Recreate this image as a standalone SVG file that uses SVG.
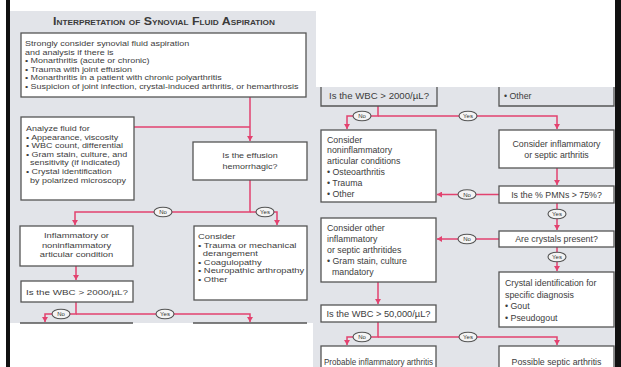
<svg xmlns="http://www.w3.org/2000/svg" width="621" height="367" viewBox="0 0 621 367">
<style>
.bg{fill:#e2e4e9}
.box{fill:#fff;stroke:#555;stroke-width:1.3}
.edge{fill:none;stroke:#555;stroke-width:1.3}
.t{font-family:"Liberation Sans",Arial,sans-serif;font-size:8.8px;fill:#3c3c3c}
.s{font-family:"Liberation Sans",Arial,sans-serif;font-size:7.8px;fill:#3c3c3c}
.c{text-anchor:middle}
.ttl{font-family:"Liberation Sans",Arial,sans-serif;font-size:10.5px;font-weight:bold;font-variant:small-caps;fill:#3a3a3a;text-anchor:middle}
.ln{fill:none;stroke:#e2426f;stroke-width:1.5}
.lab{fill:#f4f4f4;stroke:#555;stroke-width:1.1}
.lt{font-family:"Liberation Sans",Arial,sans-serif;font-size:6px;fill:#333;text-anchor:middle}
</style>
<defs>
<marker id="ah" markerUnits="userSpaceOnUse" markerWidth="6" markerHeight="6" refX="5" refY="3" orient="auto">
<path d="M0,0 L5,3 L0,6 Z" fill="#e2426f"/>
</marker>
</defs>
<rect width="621" height="367" fill="#fff"/>
<g id="page">
<rect class="bg" x="10" y="11" width="306" height="312"/>
<rect class="bg" x="313" y="87" width="302" height="280"/>
<rect x="6" y="0" width="4" height="367" fill="#111"/>
<rect x="615" y="0" width="6" height="367" fill="#111"/>
<text class="ttl" x="164" y="25" textLength="222" lengthAdjust="spacingAndGlyphs">Interpretation of Synovial Fluid Aspiration</text>
</g>

<g id="connectors">
<path class="ln" d="M250,97 V141" marker-end="url(#ah)"/>
<path class="ln" d="M134,127 H250"/>
<path class="ln" d="M250,180 V212 H75 V225" marker-end="url(#ah)"/>
<path class="ln" d="M250,212 H277 V225" marker-end="url(#ah)"/>
<path class="ln" d="M76,266 V280" marker-end="url(#ah)"/>
<path class="ln" d="M76,302 V314 H45 V322" marker-end="url(#ah)"/>
<path class="ln" d="M76,314 H250 V322" marker-end="url(#ah)"/>
<path class="ln" d="M378,106 V116 H347 V129" marker-end="url(#ah)"/>
<path class="ln" d="M378,116 H557 V129" marker-end="url(#ah)"/>
<path class="ln" d="M557,168 V185" marker-end="url(#ah)"/>
<path class="ln" d="M499,194.5 H437" marker-end="url(#ah)"/>
<path class="ln" d="M557,203 V230" marker-end="url(#ah)"/>
<path class="ln" d="M499,239 H437" marker-end="url(#ah)"/>
<path class="ln" d="M557,247 V271" marker-end="url(#ah)"/>
<path class="ln" d="M378,282 V304" marker-end="url(#ah)"/>
<path class="ln" d="M378,322 V337 H347 V345" marker-end="url(#ah)"/>
<path class="ln" d="M378,337 H557 V345" marker-end="url(#ah)"/>
<g id="labels">
<ellipse class="lab" cx="163" cy="212" rx="9" ry="4.8"/><text class="lt" x="163" y="214.2">No</text>
<ellipse class="lab" cx="265" cy="212" rx="9" ry="4.8"/><text class="lt" x="265" y="214.2">Yes</text>
<ellipse class="lab" cx="61" cy="314" rx="9" ry="4.8"/><text class="lt" x="61" y="316.2">No</text>
<ellipse class="lab" cx="165" cy="314" rx="9" ry="4.8"/><text class="lt" x="165" y="316.2">Yes</text>
<ellipse class="lab" cx="362" cy="116" rx="9" ry="4.8"/><text class="lt" x="362" y="118.2">No</text>
<ellipse class="lab" cx="468" cy="116" rx="9" ry="4.8"/><text class="lt" x="468" y="118.2">Yes</text>
<ellipse class="lab" cx="467" cy="194.5" rx="9" ry="4.8"/><text class="lt" x="467" y="196.7">No</text>
<ellipse class="lab" cx="557" cy="214" rx="9" ry="4.8"/><text class="lt" x="557" y="216.2">Yes</text>
<ellipse class="lab" cx="467" cy="239" rx="9" ry="4.8"/><text class="lt" x="467" y="241.2">No</text>
<ellipse class="lab" cx="557" cy="257" rx="9" ry="4.8"/><text class="lt" x="557" y="259.2">Yes</text>
<ellipse class="lab" cx="362" cy="337" rx="9" ry="4.8"/><text class="lt" x="362" y="339.2">No</text>
<ellipse class="lab" cx="468" cy="337" rx="9" ry="4.8"/><text class="lt" x="468" y="339.2">Yes</text>
</g>
</g>

<g id="n-consider-aspiration">
<rect class="box" x="21" y="33" width="285" height="64"/>
<g transform="translate(25 0) scale(1.15 1)">
<text class="s" x="0" y="46">Strongly consider synovial fluid aspiration</text>
<text class="s" x="0" y="54.6">and analysis if there is</text>
<text class="s" x="0" y="63.2">• Monarthritis (acute or chronic)</text>
<text class="s" x="0" y="71.8">• Trauma with joint effusion</text>
<text class="s" x="0" y="80.4">• Monarthritis in a patient with chronic polyarthritis</text>
<text class="s" x="0" y="89">• Suspicion of joint infection, crystal-induced arthritis, or hemarthrosis</text>
</g>
</g>

<g id="n-analyze">
<rect class="box" x="21" y="117" width="113" height="83"/>
<g transform="translate(26 0) scale(1.15 1)">
<text class="s" x="0" y="131">Analyze fluid for</text>
<text class="s" x="0" y="139.6">• Appearance, viscosity</text>
<text class="s" x="0" y="148.2">• WBC count, differential</text>
<text class="s" x="0" y="156.8">• Gram stain, culture, and</text>
<text class="s" x="3.5" y="165.4">sensitivity (if indicated)</text>
<text class="s" x="0" y="174">• Crystal identification</text>
<text class="s" x="3.5" y="182.6">by polarized microscopy</text>
</g>
</g>

<g id="n-hemorrhagic">
<rect class="box" x="193" y="142" width="114" height="38"/>
<g transform="translate(250 0) scale(1.15 1)">
<text class="s c" x="0" y="158">Is the effusion</text>
<text class="s c" x="0" y="169">hemorrhagic?</text>
</g>
</g>

<g id="n-inflammatory-condition">
<rect class="box" x="20" y="226" width="113" height="40"/>
<g transform="translate(76.5 0) scale(1.2 1)">
<text class="s c" x="0" y="238.5">Inflammatory or</text>
<text class="s c" x="0" y="248">noninflammatory</text>
<text class="s c" x="0" y="257.5">articular condition</text>
</g>
</g>

<g id="n-consider-trauma">
<rect class="box" x="194" y="226" width="113" height="74"/>
<g transform="translate(198 0) scale(1.2 1)">
<text class="s" x="0" y="239">Consider</text>
<text class="s" x="0" y="248">• Trauma or mechanical</text>
<text class="s" x="4" y="256.5">derangement</text>
<text class="s" x="0" y="265">• Coagulopathy</text>
<text class="s" x="0" y="273.5">• Neuropathic arthropathy</text>
<text class="s" x="0" y="282">• Other</text>
</g>
</g>

<g id="n-wbc-2000-left">
<rect class="box" x="21" y="281" width="112" height="21"/>
<text class="s c" x="77" y="294.5" textLength="102" lengthAdjust="spacingAndGlyphs">Is the WBC &gt; 2000/µL?</text>
</g>

<g id="n-cut-boxes">
<path class="edge" d="M20,323 H133 M193,323 H307"/>
<path class="edge" d="M321,87 V106 H437 V87"/>
<text class="t c" x="379" y="98.5" textLength="100" lengthAdjust="spacingAndGlyphs">Is the WBC &gt; 2000/µL?</text>
<path class="edge" d="M499,87 V106 H614 V87"/>
<text class="t" x="504" y="98.5">• Other</text>
</g>

<g id="n-noninflammatory">
<rect class="box" x="321" y="130" width="115" height="72"/>
<text class="t" x="327" y="142.5">Consider</text>
<text class="t" x="327" y="153.3">noninflammatory</text>
<text class="t" x="327" y="164.1">articular conditions</text>
<text class="t" x="327" y="174.9">• Osteoarthritis</text>
<text class="t" x="327" y="185.7">• Trauma</text>
<text class="t" x="327" y="196.5">• Other</text>
</g>

<g id="n-inflammatory-septic">
<rect class="box" x="499" y="130" width="115" height="38"/>
<text class="t c" x="556.5" y="147">Consider inflammatory</text>
<text class="t c" x="556.5" y="158">or septic arthritis</text>
</g>

<g id="n-pmns">
<rect class="box" x="499" y="186" width="115" height="17"/>
<text class="t c" x="556.5" y="197.5">Is the % PMNs &gt; 75%?</text>
</g>

<g id="n-crystals">
<rect class="box" x="499" y="231" width="115" height="16"/>
<text class="t c" x="556.5" y="242">Are crystals present?</text>
</g>

<g id="n-other-inflammatory">
<rect class="box" x="321" y="218" width="115" height="64"/>
<text class="t" x="327" y="231">Consider other</text>
<text class="t" x="327" y="242">inflammatory</text>
<text class="t" x="327" y="253">or septic arthritides</text>
<text class="t" x="327" y="264">• Gram stain, culture</text>
<text class="t" x="332" y="275">mandatory</text>
</g>

<g id="n-crystal-id">
<rect class="box" x="499" y="272" width="115" height="55"/>
<text class="t" x="505" y="286">Crystal identification for</text>
<text class="t" x="505" y="297.5">specific diagnosis</text>
<text class="t" x="505" y="309">• Gout</text>
<text class="t" x="505" y="320.5">• Pseudogout</text>
</g>

<g id="n-wbc-50000">
<rect class="box" x="321" y="305" width="115" height="17"/>
<text class="t c" x="378.5" y="316.5" textLength="104" lengthAdjust="spacingAndGlyphs">Is the WBC &gt; 50,000/µL?</text>
</g>

<g id="n-probable-inflammatory">
<rect class="box" x="321" y="346" width="115" height="30"/>
<text class="t c" x="378.5" y="365" textLength="109" lengthAdjust="spacingAndGlyphs">Probable inflammatory arthritis</text>
</g>

<g id="n-possible-septic">
<rect class="box" x="499" y="346" width="115" height="30"/>
<text class="t c" x="556.5" y="365">Possible septic arthritis</text>
</g>
</svg>
